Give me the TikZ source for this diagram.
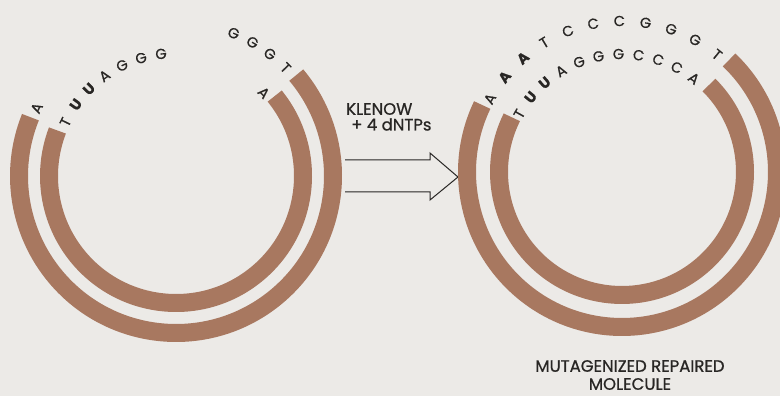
\documentclass[tikz,border=0pt]{standalone}
\usepackage{fontspec}
\setmainfont{Poppins}
\newfontfamily\labelfont[FakeBold=0.8]{Poppins}
\usetikzlibrary{positioning}

\definecolor{dnabrown}{RGB}{168,120,96}
\definecolor{paper}{RGB}{236,234,231}
\definecolor{ink}{RGB}{40,38,36}

\tikzset{
  strand/.style={draw=dnabrown, line width=18pt},
  base/.style={font=\labelfont\fontsize{14.5}{14.5}\selectfont, text=ink, inner sep=0pt},
  caption/.style={font=\labelfont\fontsize{16.5}{18}\selectfont, text=ink, inner sep=0pt, align=center}
}

% bases set round a circle: name, centre, radius, first angle, step, letters
\newcommand\bases[6]{%
  \foreach \b [count=\i from 0] in {#6} {
    \pgfmathsetmacro\ang{#4-\i*#5}
    \node[base, rotate=\ang-90] (#1-\i) at ([shift={(\ang:#3)}]#2) {\b};
  }}

\begin{document}
\begin{tikzpicture}[x=1pt,y=1pt]
  \fill[paper] (0,0) rectangle (780,396);
  \clip (0,0) rectangle (780,396);

  \coordinate (L) at (176,220);
  \coordinate (R) at (622,224);

  % gapped duplex
  \draw[strand] (L) ++(40:157) arc[start angle=40, end angle=-202, radius=157];
  \draw[strand] (L) ++(39:127) arc[start angle=39, end angle=-201, radius=127];
  \bases{lo}{L}{155}{154}{0}{A}
  \bases{lr}{L}{154}{68}{7.8}{G,G,G,T}
  \bases{li}{L}{123}{154}{9.5}{T,\textbf{U},\textbf{U},A,G,G,G}
  \bases{la}{L}{121}{43.5}{0}{A}

  % the block arrow
  \draw[ink, line width=1pt] (345,236) -- (430,236) -- (430,243) -- (458,219)
    -- (430,196) -- (430,204) -- (345,204);
  \node[caption, anchor=west] (klenow) at (346,287) {KLENOW};
  \node[caption, below right=3pt and 5pt of klenow.south west] (dntp) {+ 4 dNTPs};

  % repaired duplex
  \draw[strand] (R) ++(46.3:155) arc[start angle=46.3, end angle=-205.6, radius=155];
  \draw[strand] (R) ++(45:123) arc[start angle=45, end angle=-206.4, radius=123];
  \bases{ro}{R}{151}{151}{10}{A,\textbf{A},\textbf{A},T,C,C,C,G,G,G,T}
  \bases{ri}{R}{118}{150.5}{9.8}{T,\textbf{U},\textbf{U},A,G,G,G,C,C,C,A}

  \node[caption] (repaired) at (630,21) {MUTAGENIZED REPAIRED\\MOLECULE};
\end{tikzpicture}
\end{document}
